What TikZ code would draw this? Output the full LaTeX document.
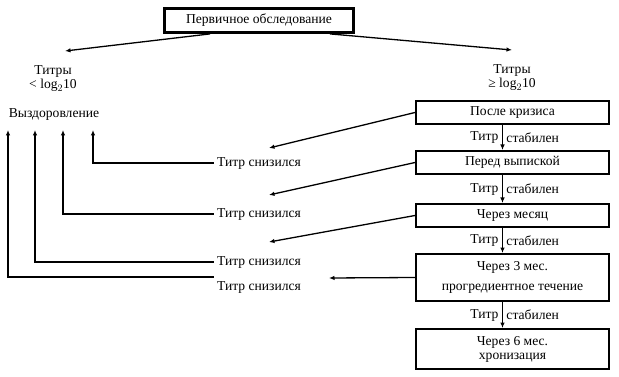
\documentclass[tikz,border=0pt]{standalone}
\usepackage{fontspec}
\setmainfont{Liberation Serif}
\usetikzlibrary{arrows.meta, positioning, calc}

\begin{document}
\begin{tikzpicture}[
            x=1pt, y=-1pt,
            node distance=25pt,
            font=\fontsize{13.6}{15}\selectfont,
            stage/.style={
                rectangle,
                draw,
                line width=2pt,
                minimum height=23pt,
                minimum width=193pt,
                align=center
            },
            topbox/.style={
                stage,
                line width=2.8pt,
                minimum height=24pt,
                minimum width=189pt
            },
            txt/.style={align=center},
            arrow/.style={-{Latex[length=5.5pt,width=4.5pt]}, line width=1.3pt}
        ]
            \useasboundingbox (0,0) rectangle (619,377);

            \node[topbox] (exam) at (259,20.5) {Первичное обследование};
            \node[txt] (lowtit) at (53,79) {Титры\\[-1pt]< log$_2$10};
            \node[txt] (hightit) at (512,78) {Титры\\[-1pt]≥ log$_2$10};
            \node[txt] (recov) at (54,114) {Выздоровление};

            % Right column
            \node[stage] (crisis) at (512.5,112.5) {После кризиса};
            \node[stage, below=of crisis] (disch) {Перед выпиской};
            \node[stage, below=28pt of disch] (month) {Через месяц};
            \node[stage, below=of month, minimum height=47pt] (three) {Через 3 мес.\\[5pt]прогредиентное течение};
            \node[stage, below=26pt of three, minimum height=40pt] (six) {Через 6 мес.\\[-1pt]хронизация};

            % Titre falls
            \node[txt] (low1) at (259,163) {Титр снизился};
            \node[txt] (low2) at (259,214) {Титр снизился};
            \node[txt] (low3) at (259,262) {Титр снизился};
            \node[txt] (low4) at (259,287) {Титр снизился};

            \coordinate (tl) at (65,51);
            \coordinate (tr) at (512,50);
            \coordinate (tip1) at (269,148);
            \coordinate (tip2) at (269,195);
            \coordinate (tip3) at (269,242);
            \coordinate (tip4) at (329,278);
            \coordinate (up1) at (93,130);
            \coordinate (up2) at (63,130);
            \coordinate (up3) at (35,130);
            \coordinate (up4) at (8,130);

            % First split
            \draw[arrow] ([xshift=47pt]exam.south west) -- (tl);
            \draw[arrow] ([xshift=-25pt]exam.south east) -- (tr);

            % Stable titre
            \draw[arrow] ([xshift=-10pt]crisis.south) -- node[left]{Титр} node[right]{стабилен} ([xshift=-10pt]disch.north);
            \draw[arrow] ([xshift=-10pt]disch.south) -- node[left]{Титр} node[right]{стабилен} ([xshift=-10pt]month.north);
            \draw[arrow] ([xshift=-10pt]month.south) -- node[left]{Титр} node[right]{стабилен} ([xshift=-10pt]three.north);
            \draw[arrow] ([xshift=-10pt]three.south) -- node[left]{Титр} node[right]{стабилен} ([xshift=-10pt]six.north);

            % Falling titre
            \draw[arrow] (crisis.west) -- (tip1);
            \draw[arrow] (disch.west) -- (tip2);
            \draw[arrow] (month.west) -- (tip3);
            \draw[arrow] (three.west) -- (tip4);

            % Back to recovery
            \draw[arrow] (low1.west) -| (up1);
            \draw[arrow] (low2.west) -| (up2);
            \draw[arrow] (low3.west) -| (up3);
            \draw[arrow] ([yshift=10pt]low4.west) -| (up4);
        \end{tikzpicture}
\end{document}
